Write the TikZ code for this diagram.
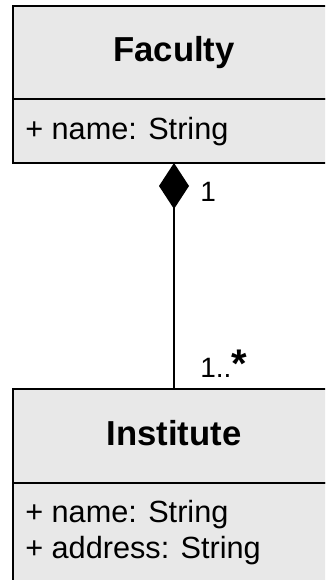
\documentclass[tikz,border=0pt]{standalone}
\usepackage{fontspec}
\setmainfont{Liberation Sans}
\usetikzlibrary{positioning, arrows.meta}
\definecolor{umlgray}{RGB}{232,232,232}

\begin{document}
\begin{tikzpicture}[
    x=0.75pt, y=-0.75pt,
    cls/.style={
        draw, line width=1.5pt, fill=umlgray, outer sep=0pt,
        minimum width=241.5pt, anchor=north west, inner sep=0pt},
    head/.style={cls, font=\fontsize{26}{30}\selectfont\bfseries,
        text height=18.75pt, text depth=5.25pt},
    attrs/.style={cls},
    attr/.style={anchor=base west, inner sep=0pt,
        font=\fontsize{23}{27}\selectfont},
    mult/.style={anchor=base west, inner sep=0pt,
        font=\fontsize{21}{25}\selectfont},
    comp/.style={{Diamond[length=34.5pt, width=22.5pt]}-, line width=1.5pt},
]
\useasboundingbox (0,0) rectangle (325,580);
\clip (0,0) rectangle (325,580);

% ============================ Faculty ===================================
\node[head, minimum height=69.75pt] (faculty) at (13,6) {Faculty};
\node[attrs, minimum height=48pt] (facattr) at (13,99) {};
\node[attr] (facname) at (25,140) {+ name: String};

% ============================ Institute =================================
\node[head, minimum height=70.5pt] (institute) at (13,389) {Institute};
\node[attrs, minimum height=97.5pt] (instattr) at (13,483) {};
\node[attr] (instname) at (25,522) {+ name: String};
\node[attr] (instaddr) at (25,558) {+ address: String};

% ============================ composition ===============================
\draw[comp] (facattr.south) -- (institute.north);
\node[mult] (multfac) at (200,202) {1};
\node[mult] (multinst) at (200,377) {1..{\fontsize{30}{30}\selectfont\bfseries *}};

\end{tikzpicture}
\end{document}
